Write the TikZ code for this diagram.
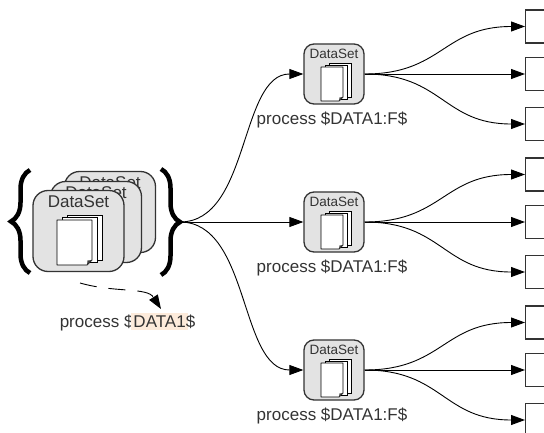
\documentclass[tikz,border=0pt]{standalone}
\usepackage{fontspec}
\setmainfont{Liberation Sans}
\usetikzlibrary{arrows.meta,decorations.pathreplacing,calc}

\definecolor{boxgray}{HTML}{E3E3E3}
\definecolor{edgegray}{HTML}{333333}
\definecolor{txtgray}{HTML}{333333}
\definecolor{hl}{HTML}{FDEBDB}

\newcommand\pagestack[5]{% x, y (top-left of front page), w, h, step
  \foreach \k in {2,1}{%
    \draw[fill=white,line width=0.8pt] ({#1+\k*#5},{#2-\k*#5/2}) rectangle ++(#3,#4);}
  \draw[fill=white,line width=0.8pt,line join=round] (#1,#2) -- ++(#3,0) -- ++(0,{#4-#5}) -- ++({-#5},#5) -- ++({#5-#3},0) -- cycle;
  \fill[black!75] ({#1+#3-#5},{#2+#4}) -- ({#1+#3},{#2+#4-#5}) -- ({#1+#3-#5+0.5},{#2+#4-#5+0.5}) -- cycle;
}
\newcommand\hltext[1]{{\setlength\fboxsep{0pt}\kern-2pt\colorbox{hl}{\rule[-3pt]{0pt}{17pt}\kern2pt #1\kern2pt}\kern-2pt}}

\begin{document}
\begin{tikzpicture}[x=1pt,y=-1pt,
  dsbox/.style={draw=edgegray, line width=1.3pt, fill=boxgray, rounded corners=10pt,
    minimum width=60pt, minimum height=60pt, inner sep=0pt},
  bigbox/.style={draw=edgegray, line width=1.3pt, fill=boxgray, rounded corners=15pt,
    minimum width=91pt, minimum height=81pt, inner sep=0pt},
  outbox/.style={draw=edgegray, line width=1.2pt, fill=white,
    minimum width=40pt, minimum height=33pt, inner sep=0pt},
  biglbl/.style={font=\fontsize{17}{20}\selectfont, text=txtgray, inner sep=0pt, anchor=base},
  smalllbl/.style={font=\fontsize{13.5}{16}\selectfont, text=txtgray, inner sep=0pt, anchor=base},
  conn/.style={line width=0.9pt, -{Triangle[length=14pt,width=10pt]}},
  fan/.style={conn, out=0, in=180, out distance=78pt, in distance=82pt},
  bracefan/.style={conn, out=0, in=180, out distance=70pt, in distance=64pt},
  bigbrace/.style={line width=4.5pt, decorate, decoration={brace, amplitude=19pt}},
]
\useasboundingbox (0,0) rectangle (544,433);
\clip (0,0) rectangle (544,433);

% stacked data sets
\node[bigbox] (b3) at (110,212) {};
\node[biglbl] (b3t) at ($(b3.north)+(0,17.5)$) {DataSet};
\node[bigbox] (b2) at (96,222) {};
\node[biglbl] (b2t) at ($(b2.north)+(0,17.5)$) {DataSet};
\node[bigbox] (b1) at (78.5,231) {};
\node[biglbl] (b1t) at ($(b1.north)+(0,17.5)$) {DataSet};
\pagestack{57}{220}{35}{45}{5}

% braces
\draw[bigbrace] (30,273) -- (30,170);
\draw[bigbrace] (161,169) -- (161,275);
\coordinate (btip) at (180,222);

% dashed arrow and label
\coordinate (dstart) at (80,283);
\coordinate (dend) at (161,309);
\draw[line width=0.9pt, dash pattern=on 17pt off 12pt, -{Triangle[length=14pt,width=10pt]}]
  (dstart) .. controls +(35,10) and +(-14,-22) .. (dend);
\node[biglbl] (plbl) at (127.5,327) {process \$\hltext{DATA1}\$};

% small data sets
\foreach \i/\y in {1/74,2/222,3/370}{
  \node[dsbox] (s\i) at (334,\y) {};
  \node[smalllbl] (s\i t) at ($(s\i.north)+(0,15.5)$) {DataSet};
  \pagestack{321}{\y-7}{22}{34}{4}
  \node[biglbl] (p\i) at (332,\y+50.5) {process \$DATA1:F\$};
}

% connectors from brace
\draw[bracefan] (btip) to (s1.west);
\draw[conn] (btip) -- (s2.west);
\draw[bracefan] (btip) to (s3.west);

% output boxes
\foreach \i/\y in {1/74,2/222,3/370}{
  \node[outbox, anchor=west] (r\i a) at (525,\y-47.5) {};
  \node[outbox, anchor=west] (r\i b) at (525,\y) {};
  \node[outbox, anchor=west] (r\i c) at (525,\y+50) {};
  \draw[fan] (s\i.east) to (r\i a.west);
  \draw[conn] (s\i.east) -- (r\i b.west);
  \draw[fan] (s\i.east) to (r\i c.west);
}
\end{tikzpicture}
\end{document}
